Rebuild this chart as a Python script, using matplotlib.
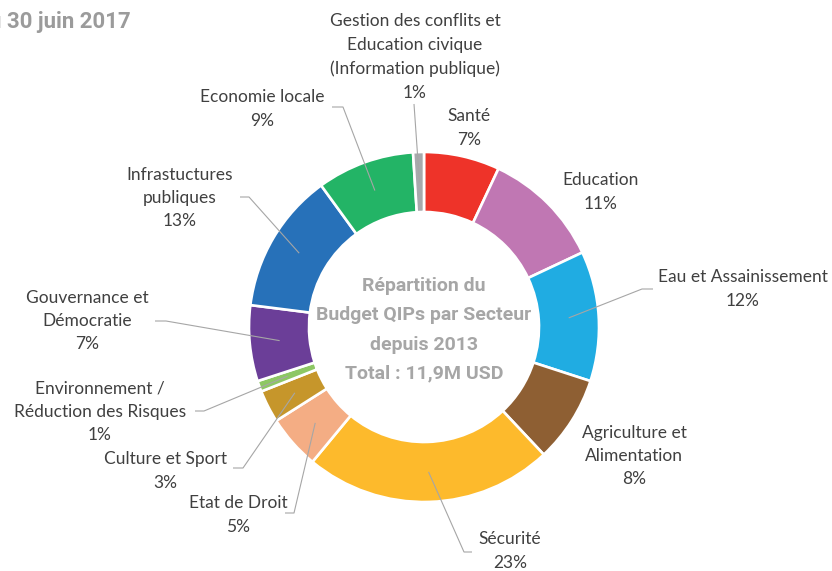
import matplotlib.pyplot as plt
import numpy as np

# ----- data -----
sectors = ["Santé", "Education", "Eau et Assainissement", "Agriculture et\nAlimentation",
           "Sécurité", "Etat de Droit", "Culture et Sport",
           "Environnement /\nRéduction des Risques", "Gouvernance et\nDémocratie",
           "Infrastuctures\npubliques", "Economie locale",
           "Gestion des conflits et\nEducation civique\n(Information publique)"]
shares = [7, 11, 12, 8, 23, 5, 3, 1, 7, 13, 9, 1]
colors = ["#EE3329", "#C077B3", "#20ACE2", "#8E5F33", "#FDBA2C", "#F4AD84",
          "#C6962B", "#8DC764", "#6B3E98", "#2771B9", "#23B466", "#A7A9AC"]

# label block centres (pixels) and leader-line start (None = no leader)
label_pos = [(469, 128), (601, 192), (743, 289), (634, 456), (510, 551), (238, 515),
             (165, 471), (100, 412), (87, 321), (180, 198), (262, 109), (415, 57)]
leader_start = [None, None, (653, 289), None, (472, 552), (285, 513),
                (233, 468), (195, 411), (155, 321), (240, 197), (332, 107), (414, 104)]
leader_knee = [None, None, (642, 289), None, (464, 552), (294, 513),
               (243, 468), (204, 411), (166, 321), (249, 197), (343, 107), (414, 104)]

center_text = "Répartition du\nBudget QIPs par Secteur\ndepuis 2013\nTotal : 11,9M USD"

cx, cy, R, ring = 424, 327, 175, 60
text_col = "#404040"
line_col = "#A6A6A6"

fig = plt.figure(figsize=(8.32, 5.71), dpi=100)
ax = fig.add_axes([0, 0, 1, 1])

# y axis inverted below, so counterclock=True draws clockwise on screen
wedges, _ = ax.pie(shares, colors=colors, center=(cx, cy), radius=R,
                   startangle=-90, counterclock=True,
                   wedgeprops=dict(width=ring, edgecolor="white", linewidth=1.9))

ax.set_xlim(0, 832)
ax.set_ylim(571, 0)
ax.set_aspect("equal")
ax.axis("off")

for w, name, val, pos, st, kn in zip(wedges, sectors, shares, label_pos, leader_start, leader_knee):
    ax.text(pos[0], pos[1], f"{name}\n{val}%", ha="center", va="center",
            fontsize=12.5, family="Lato", color=text_col, linespacing=1.57)
    if st is not None:
        mid = np.deg2rad((w.theta1 + w.theta2) / 2)
        rm = R - ring / 2
        px, py = cx + rm * np.cos(mid), cy + rm * np.sin(mid)
        ax.plot([st[0], kn[0], px], [st[1], kn[1], py], color=line_col, lw=0.8,
                solid_capstyle="butt")

ax.text(cx, 330, center_text, ha="center", va="center", fontsize=14,
        family="Roboto", fontweight="bold", color="#A6A6A6", linespacing=1.8)

ax.text(131, 22, "au 30 juin 2017", ha="right", va="center", fontsize=16,
        family="Roboto", fontweight="bold", color="#9B9B9B")

fig.savefig("out.png", dpi=100)
